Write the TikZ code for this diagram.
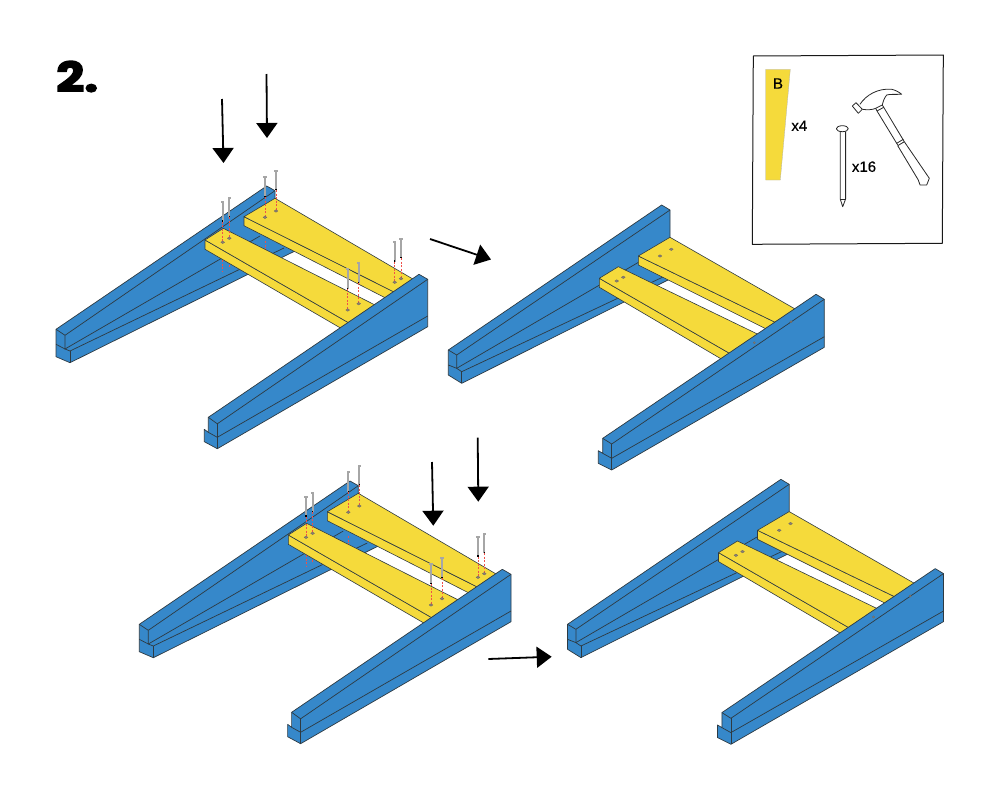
\documentclass[tikz,border=0pt]{standalone}
\usepackage{fontspec}
\usetikzlibrary{arrows.meta}
\setmainfont{Liberation Sans}
\newfontfamily\stepfont[FakeBold=3.4,FakeStretch=1.2]{Poppins Bold}
\newfontfamily\labelfont[FakeBold=.4]{Liberation Sans}

\definecolor{legblue}{HTML}{3688CA}
\definecolor{boardyellow}{HTML}{F5DA3B}
\definecolor{edgegray}{HTML}{2E3A42}
\definecolor{pilotred}{HTML}{F0504A}

\tikzset{
  blueface/.style={fill=legblue, draw=edgegray, line width=.7pt, line join=round},
  yellowface/.style={fill=boardyellow, draw=edgegray, line width=.6pt, line join=round},
  edgeline/.style={draw=edgegray, line width=.7pt},
  hole/.style={fill=gray!75!brown, draw=black!60, line width=.3pt},
  pilot/.style={draw=pilotred, line width=.8pt, dash pattern=on 2pt off 1.5pt},
  shaft/.style={draw=gray!70, line width=2pt},
  bigarrow/.style={draw=black, line width=1.8pt, -{Triangle[length=15pt,width=21pt]}},
  sketchline/.style={draw=black!85, line width=.8pt, line join=round},
  labeltext/.style={inner sep=0pt, font=\labelfont\fontsize{15}{15}\selectfont}
}

% frame before nailing
\newcommand{\legsopen}{
  \fill[blueface] (56,329.3) -- (266.7,186) -- (275,190.7) -- (275,236) -- (297,250) -- (70,362.7)
    -- (56,356.7) -- cycle;
  \draw[edgeline] (56,329.3) -- (65,335.3) -- (275,190.7);
  \draw[edgeline] (56,344.3) -- (65,349) -- (260,236);
  \draw[edgeline] (65,335.3) -- (65,349) -- (70,351) -- (284,248);
  \draw[edgeline] (70,351) -- (70,362.7);
}
\newcommand{\boardsopen}{
  \fill[yellowface] (244,216.7) -- (244,225.7) -- (387,298.7) -- (396,293) -- cycle;
  \fill[yellowface] (275,198.3) -- (244,216.7) -- (396,293) -- (414,279.7) -- cycle;
  \fill[yellowface] (205,240) -- (205,249.3) -- (341,328.3) -- (350,323.6) -- cycle;
  \fill[yellowface] (223.3,228.3) -- (205,240) -- (350,323.6) -- (378,306.5) -- cycle;
}
\newcommand{\frontopen}{
  \fill[blueface] (208.3,417.3) -- (419,274.3) -- (427.7,279.3) -- (427.7,326.7) -- (217.3,448.7)
    -- (204.3,441.7) -- (204.3,429.3) -- (208.3,432.3) -- cycle;
  \draw[edgeline] (208.3,417.3) -- (217.3,423.8) -- (427.7,279.3);
  \draw[edgeline] (208.3,432.3) -- (217.3,437.3) -- (427.7,316);
  \draw[edgeline] (217.3,423.8) -- (217.3,448.7);
}
% frame after nailing
\newcommand{\legsdone}{
  \fill[blueface] (448.3,350) -- (661.7,205) -- (670,210) -- (670,279) -- (461.7,383.3)
    -- (448.3,375) -- cycle;
  \draw[edgeline] (448.3,350) -- (456.7,355) -- (670,210);
  \draw[edgeline] (448.3,365) -- (456.7,368.3) -- (639,262);
  \draw[edgeline] (456.7,355) -- (456.7,368.3) -- (461.7,371.7) -- (663,277);
  \draw[edgeline] (461.7,371.7) -- (461.7,383.3);
}
\newcommand{\boardsdone}{
  \fill[yellowface] (638.3,256) -- (638.3,265) -- (767,329.4) -- (776,322.7) -- cycle;
  \fill[yellowface] (670,237.3) -- (638.3,256) -- (776,322.7) -- (796,309.5) -- cycle;
  \fill[yellowface] (599.3,278.3) -- (599.3,287.3) -- (722,359.4) -- (731,354.2) -- cycle;
  \fill[yellowface] (618.3,266.7) -- (599.3,278.3) -- (731,354.2) -- (759,334.8) -- cycle;
  \foreach \x/\y in {660/256, 671.3/249.3, 616.7/281, 623.3/277.3}
    \fill[hole] (\x,\y) ellipse (1.9 and 1.3);
}
\newcommand{\frontdone}{
  \fill[blueface] (602.7,438.3) -- (816,294.3) -- (824.3,299.3) -- (824.3,347.3) -- (611.7,470)
    -- (598.3,463.3) -- (598.3,450.7) -- (602.7,453.3) -- cycle;
  \draw[edgeline] (602.7,438.3) -- (611.7,444) -- (824.3,299.3);
  \draw[edgeline] (602.7,453.3) -- (611.7,458.3) -- (824.3,336.7);
  \draw[edgeline] (611.7,444) -- (611.7,470);
  \foreach \x/\y in {754.3/342.7, 791/321.7}
    \fill[hole] (\x,\y) circle (1.1);
}

\begin{document}
\begin{tikzpicture}[x=1pt,y=-1pt]
  \useasboundingbox (0,0) rectangle (1000,800);

  \node[inner sep=0pt, anchor=west, font=\stepfont\fontsize{41}{41}\selectfont] (stepno) at (56,76.5) {2.};

  % nails still out
  \foreach \sx/\sy in {0/0, 83.3/295}{
    \begin{scope}[shift={(\sx,\sy)}]
      \legsopen
      \foreach \x/\a/\b in {222.7/260/272, 229.3/258/267, 265/241/252}
        \draw[pilot] (\x,\a) -- (\x,\b);
      \boardsopen
      \frontopen
      \foreach \x/\h/\t/\o in {222.7/201.7/221.7/242.3, 229.3/198.3/217.3/238.3, 265/177.3/197.3/217.3,
          276/171/190/211, 347.7/269.3/289.3/310, 358.7/262.7/283.3/303.7,
          394.7/242.3/261.7/282.3, 401/239/258.3/278.7}{
        \draw[pilot] (\x,\t) -- (\x,\o);
        \fill[hole] (\x,\o) ellipse (1.9 and 1.3);
        \draw[shaft] (\x,\h) -- (\x,\t);
        \draw[black, line width=1.2pt] (\x,\t-1.5) -- (\x,\t);
        \fill[gray!70] (\x-1.7,\h-1.2) rectangle (\x+1.7,\h+.8);
      }
    \end{scope}
  }

  % nails driven in
  \foreach \sx/\sy in {0/0, 119.2/274.3}{
    \begin{scope}[shift={(\sx,\sy)}]
      \legsdone
      \boardsdone
      \frontdone
    \end{scope}
  }

  \coordinate (A1a) at (222,99);     \coordinate (A1b) at (223.5,163);
  \coordinate (A2a) at (266.5,74);   \coordinate (A2b) at (267,138);
  \coordinate (A3a) at (430,239);    \coordinate (A3b) at (491,259.5);
  \coordinate (A4a) at (432,462);    \coordinate (A4b) at (433.3,525.7);
  \coordinate (A5a) at (477.7,437.7);\coordinate (A5b) at (478.3,501.7);
  \coordinate (A6a) at (488.3,659);  \coordinate (A6b) at (551.7,656.7);
  \foreach \a in {1,2,3,4,5,6}
    \draw[bigarrow] (A\a a) -- (A\a b);

  % parts box
  \draw[black!90, line width=1pt, line join=round] (753.3,56) -- (943.3,55) -- (942.3,243.3) -- (752.3,244.3) -- cycle;
  \fill[boardyellow, draw=gray!60, line width=.3pt] (765.7,69.3) -- (790.3,69.3) -- (780.3,180) -- (765.7,180) -- cycle;
  \node[labeltext] (partB) at (778,83.5) {B};
  \node[labeltext] (countB) at (799.3,125.7) {x4};
  \node[labeltext] (countN) at (864,166.7) {x16};

  % nail
  \draw[sketchline] (842.3,128.7) ellipse (6 and 3);
  \draw[sketchline] (840.2,131.5) -- (840.2,199) -- (842.7,206.7) -- (845.6,199) -- (845.6,131.5);
  \draw[sketchline] (840.2,199) -- (845.6,199);

  % hammer
  \draw[sketchline] (852.3,106) -- (856,102.7) -- (862.3,109.3) -- (858.3,113.3) -- cycle;
  \draw[sketchline] (860,104.3) .. controls (866,95) and (878,88) .. (891.7,89.3)
    .. controls (895,90) and (899,92) .. (901.7,94.3)
    .. controls (896,94.5) and (890,94) .. (886.7,95)
    .. controls (884,98) and (883,102) .. (882.3,105) -- (875.7,108.3)
    .. controls (872,110) and (867,110) .. (862.3,109.3);
  \draw[sketchline] (877,111) -- (883.7,107.3);
  \draw[sketchline] (875.7,108.3) -- (877,111) -- (897.7,145);
  \draw[sketchline] (882.3,105) -- (883.7,107.3) -- (904.3,141.7);
  \draw[sketchline] (896.7,143.3) -- (903.3,139.3);
  \draw[sketchline] (897.7,145.7) -- (904.3,141.7);
  \draw[sketchline] (897.7,145.7) -- (918.3,180) -- (920,185) -- (926.7,185) -- (929.3,178.3) -- (904.3,141.7);
\end{tikzpicture}
\end{document}
